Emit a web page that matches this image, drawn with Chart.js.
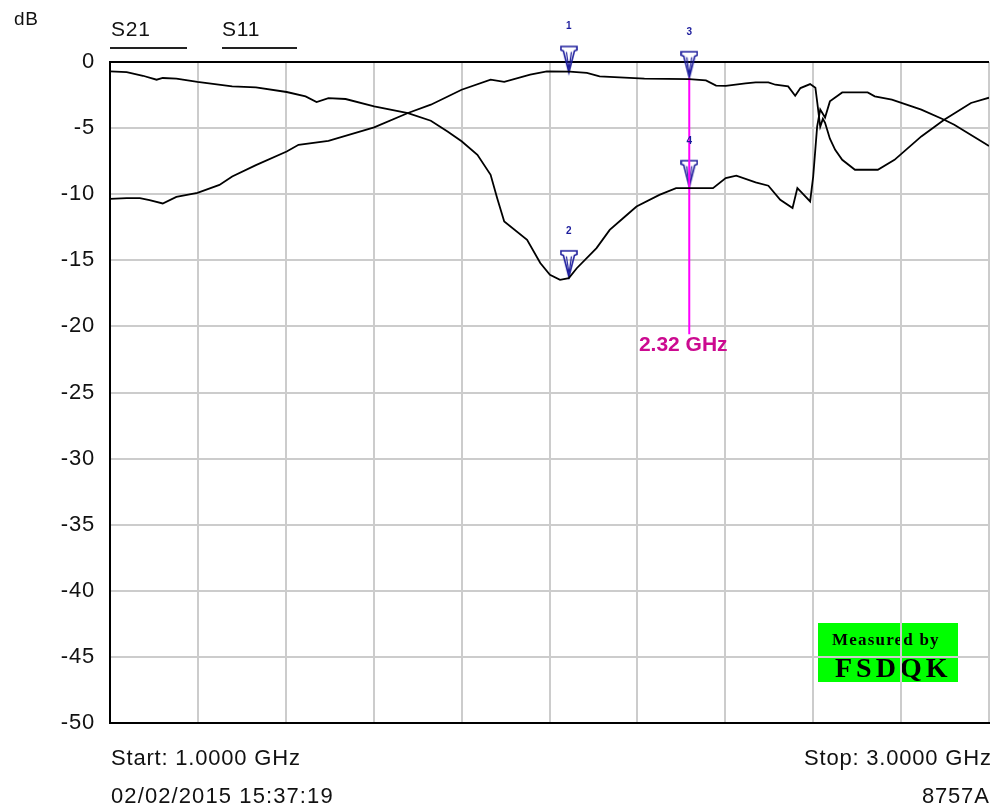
<!DOCTYPE html>
<html>
<head>
<meta charset="utf-8">
<script src="https://cdn.jsdelivr.net/npm/chart.js@4"></script>
<style>
  html, body { margin: 0; padding: 0; overflow: hidden; background: #fff; }
  #wrap { width: 1000px; height: 809px; }
</style>
</head>
<body>
<div id="wrap"><canvas id="vna" width="1000" height="809"></canvas></div>
<script>
// Trace data (GHz / dB)
const s21Freq = [1.000, 1.038, 1.068, 1.090, 1.120, 1.151, 1.199, 1.249, 1.278, 1.332, 1.402, 1.429, 1.497, 1.601, 1.678, 1.730, 1.800, 1.866, 1.897, 1.956, 1.994, 2.046, 2.085, 2.114, 2.216, 2.318, 2.356, 2.379, 2.401, 2.446, 2.469, 2.498, 2.514, 2.543, 2.559, 2.571, 2.593, 2.605, 2.609, 2.616, 2.622, 2.627, 2.638, 2.650, 2.666, 2.695, 2.747, 2.785, 2.846, 2.898, 2.959, 2.989, 3.000];
const s21Db   = [-10.35, -10.3, -10.3, -10.45, -10.7, -10.2, -9.9, -9.3, -8.66, -7.8, -6.77, -6.26, -5.96, -4.95, -3.86, -3.23, -2.1, -1.34, -1.5, -0.96, -0.71, -0.73, -0.83, -1.09, -1.26, -1.29, -1.39, -1.79, -1.8, -1.62, -1.54, -1.54, -1.72, -1.85, -2.55, -1.97, -1.67, -1.95, -3.0, -4.9, -4.3, -4.6, -5.8, -6.64, -7.4, -8.15, -8.15, -7.4, -5.63, -4.37, -3.1, -2.8, -2.7];

const s11Freq = [1.000, 1.038, 1.075, 1.106, 1.120, 1.151, 1.199, 1.278, 1.332, 1.402, 1.445, 1.470, 1.497, 1.536, 1.601, 1.678, 1.730, 1.768, 1.800, 1.836, 1.866, 1.881, 1.897, 1.949, 1.979, 2.001, 2.024, 2.044, 2.062, 2.107, 2.137, 2.168, 2.198, 2.250, 2.288, 2.372, 2.401, 2.425, 2.469, 2.498, 2.525, 2.553, 2.564, 2.575, 2.593, 2.600, 2.609, 2.616, 2.627, 2.638, 2.666, 2.724, 2.740, 2.779, 2.846, 2.898, 2.921, 2.989, 3.000];
const s11Db   = [-0.71, -0.76, -1.04, -1.34, -1.21, -1.26, -1.51, -1.85, -1.92, -2.27, -2.6, -3.03, -2.73, -2.8, -3.36, -3.86, -4.44, -5.25, -6.0, -7.02, -8.53, -10.3, -12.07, -13.45, -15.2, -16.1, -16.48, -16.35, -15.6, -14.08, -12.7, -11.8, -10.93, -10.05, -9.54, -9.54, -8.78, -8.6, -9.1, -9.36, -10.42, -11.05, -9.54, -9.92, -10.55, -8.66, -4.87, -3.6, -4.2, -2.98, -2.3, -2.3, -2.6, -2.85, -3.6, -4.37, -4.75, -6.13, -6.35];

// Markers
const markerFreq  = [2.044, 2.044, 2.318, 2.318];
const markerDb    = [-0.79, -16.25, -1.19, -9.43];
const markerNames = ['1', '2', '3', '4'];

// Cursor
const cursorFreq  = 2.318;
const cursorDb    = [-1.19, -20.6];
const cursorLabel = '2.32 GHz';

// Axis
const freqStart = 1, freqStop = 3, freqStep = 0.2;
const dbMax = 0, dbMin = -50, dbStep = 5;

const traceNames = ['S21', 'S11'];
const startText = 'Start: 1.0000 GHz';
const stopText = 'Stop: 3.0000 GHz';
const dateText = '02/02/2015 15:37:19';
const modelText = '8757A';

const toPts = (xs, ys) => xs.map((x, i) => ({ x: x, y: ys[i] }));

// marker glyph: tip sits at the canvas centre
function makeMarker() {
    const c = document.createElement('canvas');
    c.width = 18; c.height = 56;
    const g = c.getContext('2d');
    g.strokeStyle = '#1c1c9c';
    g.lineWidth = 1.6;
    g.lineJoin = 'miter';
    g.beginPath();
    g.moveTo(1, 2);
    g.lineTo(17, 2);
    g.lineTo(17, 5.5);
    g.lineTo(14.5, 6.5);
    g.lineTo(9, 28);
    g.lineTo(3.5, 6.5);
    g.lineTo(1, 5.5);
    g.closePath();
    g.stroke();
    // inner stroke, the glyph looks double-lined
    g.lineWidth = 1.2;
    g.beginPath();
    g.moveTo(6.5, 7.5);
    g.lineTo(9, 25);
    g.lineTo(11.5, 7.5);
    g.stroke();
    return c;
}
const markerImg = makeMarker();

const SANS = '"Liberation Sans", Arial, sans-serif';
const SERIF = '"Liberation Serif", "DejaVu Serif", serif';

const decorPlugin = {
    id: 'decor',
    beforeDraw(chart) {
        const ctx = chart.ctx;
        ctx.save();
        ctx.fillStyle = '#fff';
        ctx.fillRect(0, 0, chart.width, chart.height);
        // green "Measured by" box, gridlines go over it
        ctx.fillStyle = '#00ff00';
        ctx.fillRect(818, 623, 140, 59);
        ctx.fillStyle = '#000';
        ctx.textBaseline = 'alphabetic';
        ctx.textAlign = 'left';
        ctx.font = 'bold 17px ' + SERIF;
        ctx.letterSpacing = '1.2px';
        ctx.fillText('Measured by', 832, 645);
        ctx.font = 'bold 28px ' + SERIF;
        ctx.letterSpacing = '4px';
        ctx.fillText('FSDQK', 835, 677);
        ctx.restore();
        ctx.letterSpacing = '0.8px';
    },
    afterDraw(chart) {
        const ctx = chart.ctx;
        const xs = chart.scales.x, ys = chart.scales.y;
        ctx.save();
        ctx.fillStyle = '#111';
        ctx.textAlign = 'left';
        ctx.textBaseline = 'alphabetic';
        ctx.letterSpacing = '0.8px';
        ctx.font = '19px ' + SANS;
        ctx.fillText('dB', 14, 25);
        ctx.font = '21px ' + SANS;
        ctx.fillText(traceNames[0], 111, 36);
        ctx.fillText(traceNames[1], 222, 36);
        ctx.strokeStyle = '#222';
        ctx.lineWidth = 2;
        ctx.beginPath();
        ctx.moveTo(110, 48); ctx.lineTo(187, 48);
        ctx.moveTo(222, 48); ctx.lineTo(297, 48);
        ctx.stroke();

        ctx.font = '22px ' + SANS;
        ctx.fillText(startText, 111, 765);
        ctx.letterSpacing = '1.1px';
        ctx.fillText(dateText, 111, 803);
        ctx.letterSpacing = '0.8px';
        ctx.fillText(stopText, 804, 765);
        ctx.fillText(modelText, 922, 803);

        // marker numbers
        ctx.letterSpacing = '0px';
        ctx.fillStyle = '#1c1c9c';
        ctx.font = 'bold 10px ' + SANS;
        ctx.textAlign = 'center';
        markerFreq.forEach((f, i) => {
            ctx.fillText(markerNames[i], xs.getPixelForValue(f), ys.getPixelForValue(markerDb[i]) - 43);
        });

        // cursor readout
        ctx.fillStyle = '#cc0a90';
        ctx.font = 'bold 21px ' + SANS;
        ctx.fillText(cursorLabel, xs.getPixelForValue(cursorFreq) - 6, ys.getPixelForValue(cursorDb[1]) + 17);
        ctx.restore();
    }
};

new Chart(document.getElementById('vna'), {
    type: 'line',
    data: {
        datasets: [
            {
                label: 'S21',
                data: toPts(s21Freq, s21Db),
                borderColor: '#000',
                borderWidth: 1.8,
                pointRadius: 0,
                tension: 0
            },
            {
                label: 'S11',
                data: toPts(s11Freq, s11Db),
                borderColor: '#000',
                borderWidth: 1.8,
                pointRadius: 0,
                tension: 0
            },
            {
                label: 'cursor',
                data: toPts([cursorFreq, cursorFreq], cursorDb),
                borderColor: '#ff00ff',
                borderWidth: 2,
                pointRadius: 0,
                clip: false
            },
            {
                label: 'markers',
                data: toPts(markerFreq, markerDb),
                showLine: false,
                pointStyle: markerImg,
                pointRadius: 10,
                clip: false
            }
        ]
    },
    options: {
        responsive: false,
        animation: false,
        layout: { padding: { top: 62, right: 5, left: 0, bottom: 0 } },
        plugins: { legend: { display: false }, tooltip: { enabled: false } },
        scales: {
            x: {
                type: 'linear',
                min: freqStart,
                max: freqStop,
                ticks: { stepSize: freqStep, display: false },
                grid: { color: '#cccccc', lineWidth: 2, drawTicks: false },
                border: { color: '#000', width: 2 },
                afterFit: s => { s.height = 86; }
            },
            y: {
                min: dbMin,
                max: dbMax,
                ticks: {
                    stepSize: dbStep,
                    padding: 15,
                    color: '#111',
                    font: { family: SANS, size: 22 }
                },
                grid: {
                    color: c => (c.tick && c.tick.value === 0) ? '#000' : '#cccccc',
                    lineWidth: 2,
                    drawTicks: false
                },
                border: { color: '#000', width: 2 },
                afterFit: s => { s.width = 110; }
            }
        }
    },
    plugins: [decorPlugin]
});
</script>
</body>
</html>
